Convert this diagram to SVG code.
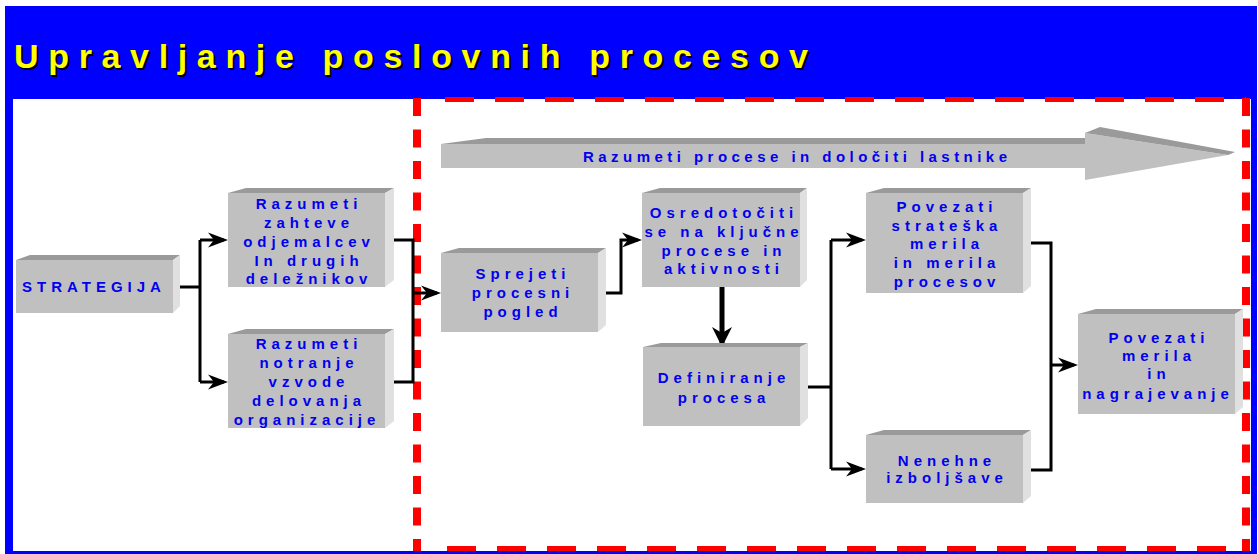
<svg xmlns="http://www.w3.org/2000/svg" width="1258" height="554" viewBox="0 0 1258 554">
  <style>
    .face { fill: #c0c0c0; }
    .top { fill: #9a9a9a; }
    .side { fill: #e0e0e0; }
    .lbl { font-family: "Liberation Sans", Arial, sans-serif; font-weight: bold; font-size: 15px; fill: #0000ee; letter-spacing: 5px; text-anchor: middle; }
    .wire { fill: none; stroke: #000; stroke-width: 3; }
    .title { font-family: "Liberation Sans", Arial, sans-serif; font-weight: bold; font-size: 34px; }
    .dash-h { fill: none; stroke: #ff0000; stroke-width: 5; stroke-dasharray: 29 21; }
    .dash-v { fill: none; stroke: #ff0000; stroke-width: 8; stroke-dasharray: 18 13.5; }
  </style>
  <defs>
    <marker id="arr" markerUnits="userSpaceOnUse" viewBox="-18 -9 24 18" refX="0" refY="0" markerWidth="24" markerHeight="18" orient="auto">
      <path d="M4,0 L-16,-7.5 L-10,0 L-16,7.5 Z" fill="#000"/>
    </marker>
    <marker id="arr-big" markerUnits="userSpaceOnUse" viewBox="-18 -11 24 22" refX="0" refY="0" markerWidth="24" markerHeight="22" orient="auto">
      <path d="M4,0 L-16,-10 L-10,0 L-16,10 Z" fill="#000"/>
    </marker>
  </defs>

  <!-- frame and heading band -->
  <rect x="5" y="6" width="1252" height="548" fill="#0000ff"/>
  <rect x="13" y="99" width="1238" height="452" fill="#ffffff"/>
  <g id="title">
    <text class="title" x="16" y="70" fill="#000" textLength="794" lengthAdjust="spacing">Upravljanje poslovnih procesov</text>
    <text class="title" x="14" y="68" fill="#ffff00" textLength="794" lengthAdjust="spacing">Upravljanje poslovnih procesov</text>
  </g>

  <!-- process area outline -->
  <g id="process-area">
    <path class="dash-h" d="M445,99.5 H1246"/>
    <path class="dash-h" d="M447,548.5 H1246"/>
    <path class="dash-v" d="M417,98 V551"/>
    <path class="dash-v" d="M1246,98 V551"/>
  </g>

  <!-- banner arrow -->
  <g id="banner">
    <polygon class="top" points="441,144 486,138 1085,138 1085,144"/>
    <rect class="face" x="441" y="144" width="644" height="24"/>
    <polygon class="face" points="1085,133 1228,155 1085,180"/>
    <polygon class="top" points="1085,133 1100,127 1235,152 1228,155"/>
    <text class="lbl" x="583" y="162" style="text-anchor:start" textLength="429" lengthAdjust="spacing">Razumeti procese in določiti lastnike</text>
  </g>

  <!-- connectors -->
  <g id="connectors">
    <path class="wire" d="M173,287 H200"/>
    <path class="wire" d="M200,240 V382"/>
    <path class="wire" d="M200,240 H224" marker-end="url(#arr)"/>
    <path class="wire" d="M200,382 H224" marker-end="url(#arr)"/>
    <path class="wire" d="M385,240 H413 V382 H385"/>
    <path class="wire" d="M413,293 H437" marker-end="url(#arr)"/>
    <path class="wire" d="M598,293 H621 V240 H638" marker-end="url(#arr)"/>
    <path class="wire" d="M722,287 V343" style="stroke-width:5" marker-end="url(#arr-big)"/>
    <path class="wire" d="M800,387 H831"/>
    <path class="wire" d="M831,240 V469"/>
    <path class="wire" d="M831,240 H862" marker-end="url(#arr)"/>
    <path class="wire" d="M831,469 H862" marker-end="url(#arr)"/>
    <path class="wire" d="M1023,243 H1051 V470 H1023"/>
    <path class="wire" d="M1051,365 H1074" marker-end="url(#arr)"/>
  </g>

  <!-- nodes -->
  <g id="strategija">
    <polygon class="top" points="16,260 30,255 180,255 173,260"/>
    <polygon class="side" points="173,260 180,255 180,306 173,313"/>
    <rect class="face" x="16" y="260" width="157" height="53"/>
    <text class="lbl" x="94" y="292">STRATEGIJA</text>
  </g>

  <g id="zahteve">
    <polygon class="top" points="228,193 246,188 394,188 385,193"/>
    <polygon class="side" points="385,193 394,188 394,280 385,287"/>
    <rect class="face" x="228" y="193" width="157" height="94"/>
    <text class="lbl" x="309" y="209">Razumeti</text>
    <text class="lbl" x="309" y="228">zahteve</text>
    <text class="lbl" x="309" y="247">odjemalcev</text>
    <text class="lbl" x="309" y="266">In drugih</text>
    <text class="lbl" x="309" y="284">deležnikov</text>
  </g>

  <g id="notranje">
    <polygon class="top" points="228,334 246,329 394,329 385,334"/>
    <polygon class="side" points="385,334 394,329 394,421 385,428"/>
    <rect class="face" x="228" y="334" width="157" height="94"/>
    <text class="lbl" x="309" y="349">Razumeti</text>
    <text class="lbl" x="309" y="368">notranje</text>
    <text class="lbl" x="309" y="387">vzvode</text>
    <text class="lbl" x="309" y="406">delovanja</text>
    <text class="lbl" x="307" y="425">organizacije</text>
  </g>

  <g id="sprejeti">
    <polygon class="top" points="441,253 459,248 606,248 598,253"/>
    <polygon class="side" points="598,253 606,248 606,325 598,332"/>
    <rect class="face" x="441" y="253" width="157" height="79"/>
    <text class="lbl" x="523" y="279">Sprejeti</text>
    <text class="lbl" x="523" y="298">procesni</text>
    <text class="lbl" x="523" y="317">pogled</text>
  </g>

  <g id="osredotociti">
    <polygon class="top" points="642,193 660,188 807,188 800,193"/>
    <polygon class="side" points="800,193 807,188 807,280 800,287"/>
    <rect class="face" x="642" y="193" width="158" height="94"/>
    <text class="lbl" x="724" y="218">Osredotočiti</text>
    <text class="lbl" x="724" y="237">se na ključne</text>
    <text class="lbl" x="724" y="256">procese in</text>
    <text class="lbl" x="724" y="274">aktivnosti</text>
  </g>

  <g id="definiranje">
    <polygon class="top" points="643,347 661,343 808,343 800,347"/>
    <polygon class="side" points="800,347 808,343 808,418 800,426"/>
    <rect class="face" x="643" y="347" width="157" height="79"/>
    <text class="lbl" x="724" y="383">Definiranje</text>
    <text class="lbl" x="724" y="403">procesa</text>
  </g>

  <g id="povezati-merila-procesov">
    <polygon class="top" points="866,193 884,188 1031,188 1023,193"/>
    <polygon class="side" points="1023,193 1031,188 1031,286 1023,293"/>
    <rect class="face" x="866" y="193" width="157" height="100"/>
    <text class="lbl" x="947" y="212">Povezati</text>
    <text class="lbl" x="947" y="231">strateška</text>
    <text class="lbl" x="947" y="249">merila</text>
    <text class="lbl" x="947" y="268">in merila</text>
    <text class="lbl" x="947" y="287">procesov</text>
  </g>

  <g id="nenehne">
    <polygon class="top" points="866,435 884,430 1031,430 1023,435"/>
    <polygon class="side" points="1023,435 1031,430 1031,496 1023,503"/>
    <rect class="face" x="866" y="435" width="157" height="68"/>
    <text class="lbl" x="947" y="466">Nenehne</text>
    <text class="lbl" x="947" y="483">izboljšave</text>
  </g>

  <g id="nagrajevanje">
    <polygon class="top" points="1078,314 1096,309 1243,309 1235,314"/>
    <polygon class="side" points="1235,314 1243,309 1243,407 1235,414"/>
    <rect class="face" x="1078" y="314" width="157" height="100"/>
    <text class="lbl" x="1159" y="343">Povezati</text>
    <text class="lbl" x="1159" y="361">merila</text>
    <text class="lbl" x="1159" y="379">in</text>
    <text class="lbl" x="1158" y="399">nagrajevanje</text>
  </g>
</svg>
